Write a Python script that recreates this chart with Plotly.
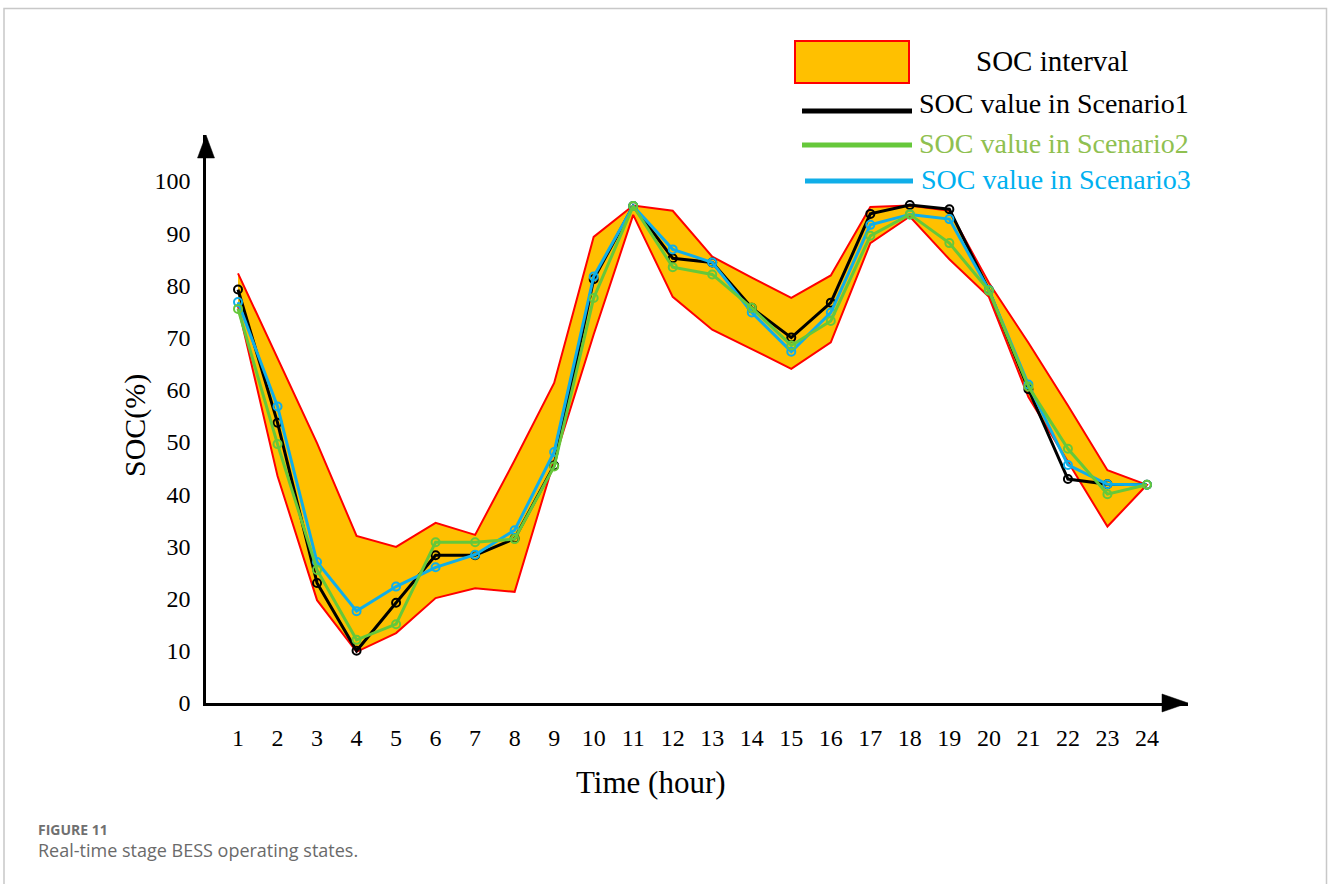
import plotly.graph_objects as go

# ---------------- data ----------------
hours = list(range(1, 25))
soc_upper = [82.3, 66.0, 49.8, 32.0, 29.9, 34.5, 32.2, 46.5, 61.3, 89.3, 95.3, 94.3,
             85.5, 81.5, 77.6, 81.9, 95.0, 95.3, 94.3, 80.5, 69.0, 57.0, 44.6, 41.8]
soc_lower = [76.0, 43.5, 19.7, 9.8, 13.4, 20.1, 22.0, 21.3, 46.4, 70.6, 93.5, 77.8,
             71.5, 67.8, 64.0, 69.1, 88.1, 93.2, 85.0, 77.8, 58.6, 46.2, 33.8, 41.8]
soc_s1 = [79.2, 53.7, 23.0, 10.0, 19.2, 28.3, 28.3, 31.5, 45.5, 81.2, 95.2, 85.2,
          84.4, 75.7, 70.0, 76.7, 93.7, 95.4, 94.6, 79.1, 60.1, 42.9, 41.9, 41.8]
soc_s2 = [75.5, 49.6, 25.5, 12.1, 15.1, 30.8, 30.8, 31.4, 45.3, 77.6, 95.2, 83.5,
          82.1, 75.7, 68.5, 73.2, 89.5, 93.6, 88.1, 79.0, 60.6, 48.7, 40.0, 41.8]
soc_s3 = [76.8, 56.8, 27.0, 17.6, 22.3, 26.0, 28.4, 33.1, 48.1, 81.7, 95.2, 86.9,
          84.4, 74.8, 67.3, 74.8, 91.6, 93.6, 92.7, 79.1, 61.0, 45.6, 41.9, 41.8]
y_ticks = list(range(0, 101, 10))
legend_labels = ["SOC interval", "SOC value in Scenario1",
                 "SOC value in Scenario2", "SOC value in Scenario3"]

# ---------------- style ----------------
W, H = 1328, 884
ML, MR, MT, MB = 206, 140, 135, 181
PW, PH = W - ML - MR, H - MT - MB
SERIF = "Liberation Serif, Times New Roman, serif"
C_FILL, C_EDGE = "#FFC000", "#FF0000"
C1, C2, C3 = "#000000", "#66C83A", "#10AEE8"
C2_TXT, C3_TXT = "#8FC050", "#00B0F0"


def px(xp):
    return (xp - ML) / PW


def py(yp):
    return (H - MB - yp) / PH


fig = go.Figure()

# interval band
fig.add_trace(go.Scatter(
    x=hours + hours[::-1], y=soc_upper + soc_lower[::-1],
    fill="toself", fillcolor=C_FILL, mode="lines",
    line=dict(color=C_EDGE, width=2), hoverinfo="skip", showlegend=False))

for vals, col in [(soc_s1, C1), (soc_s3, C3), (soc_s2, C2)]:
    fig.add_trace(go.Scatter(
        x=hours, y=vals, mode="lines+markers",
        line=dict(color=col, width=3),
        marker=dict(symbol="circle-open", size=8, color=col, line=dict(width=2, color=col)),
        showlegend=False))

shapes = []
# outer gray frame
shapes.append(dict(type="rect", xref="paper", yref="paper",
                   x0=px(4), x1=px(1326.5), y0=py(900), y1=py(8.5),
                   line=dict(color="#C8C8C8", width=1.5), layer="below"))
# arrow heads
shapes.append(dict(type="path", xref="paper", yref="paper",
                   path=f"M {px(197.5)} {py(158)} L {px(206)} {py(135)} L {px(214.5)} {py(158)} Z",
                   fillcolor="black", line=dict(color="black", width=0.5)))
shapes.append(dict(type="path", xref="paper", yref="paper",
                   path=f"M {px(1162)} {py(694)} L {px(1188)} {py(703)} L {px(1162)} {py(712)} Z",
                   fillcolor="black", line=dict(color="black", width=0.5)))
# legend swatches
shapes.append(dict(type="rect", xref="paper", yref="paper",
                   x0=px(795), x1=px(909), y0=py(83), y1=py(41),
                   fillcolor=C_FILL, line=dict(color=C_EDGE, width=2)))
for yy, col, x0, x1 in [(111, C1, 802, 912), (145, C2, 802, 912), (181, C3, 805, 913)]:
    shapes.append(dict(type="line", xref="paper", yref="paper",
                       x0=px(x0), x1=px(x1), y0=py(yy), y1=py(yy),
                       line=dict(color=col, width=5)))

annotations = [
    dict(text=legend_labels[0], x=px(1052), y=py(61), xref="paper", yref="paper",
         showarrow=False, xanchor="center", yanchor="middle",
         font=dict(family=SERIF, size=29, color="black")),
    dict(text=legend_labels[1], x=px(917), y=py(104), xref="paper", yref="paper",
         showarrow=False, xanchor="left", yanchor="middle",
         font=dict(family=SERIF, size=28, color="black")),
    dict(text=legend_labels[2], x=px(917), y=py(143), xref="paper", yref="paper",
         showarrow=False, xanchor="left", yanchor="middle",
         font=dict(family=SERIF, size=28, color=C2_TXT)),
    dict(text=legend_labels[3], x=px(919), y=py(180), xref="paper", yref="paper",
         showarrow=False, xanchor="left", yanchor="middle",
         font=dict(family=SERIF, size=28, color=C3_TXT)),
    dict(text="SOC(%)", x=px(135), y=py(426), xref="paper", yref="paper", textangle=-90,
         showarrow=False, xanchor="center", yanchor="middle",
         font=dict(family=SERIF, size=30, color="black")),
    dict(text="Time (hour)", x=px(651), y=py(782), xref="paper", yref="paper",
         showarrow=False, xanchor="center", yanchor="middle",
         font=dict(family=SERIF, size=31, color="black")),
    dict(text="<b>FIGURE 11</b>", x=px(36), y=py(829), xref="paper", yref="paper",
         showarrow=False, xanchor="left", yanchor="middle",
         font=dict(family="Open Sans, sans-serif", size=14, color="#707070")),
    dict(text="Real-time stage BESS operating states.", x=px(36), y=py(850), xref="paper", yref="paper",
         showarrow=False, xanchor="left", yanchor="middle",
         font=dict(family="Open Sans, sans-serif", size=18, color="#6A6A6A")),
]

x_lo = 1 - (238 - ML) / 39.52
x_hi = 1 + (1188 - 238) / 39.52
y_hi = (H - MB - MT) / 5.22

fig.update_layout(
    width=W, height=H,
    margin=dict(l=ML, r=MR, t=MT, b=MB, pad=0),
    paper_bgcolor="white", plot_bgcolor="rgba(0,0,0,0)",
    showlegend=False,
    shapes=shapes, annotations=annotations,
    xaxis=dict(range=[x_lo, x_hi], tickvals=hours, ticktext=[str(h) for h in hours],
               showgrid=False, zeroline=False, showline=True, linecolor="black", linewidth=2.5,
               ticks="", ticklabelstandoff=11,
               tickfont=dict(family=SERIF, size=24, color="black")),
    yaxis=dict(range=[0, y_hi], tickvals=y_ticks, ticktext=[str(v) for v in y_ticks],
               showgrid=False, zeroline=False, showline=True, linecolor="black", linewidth=2.5,
               ticks="", ticklabelstandoff=8,
               tickfont=dict(family=SERIF, size=24, color="black")),
)

fig.write_html("out.html", config={"displayModeBar": False},
               post_script="document.body.style.margin='0';document.body.style.overflow='hidden';")
